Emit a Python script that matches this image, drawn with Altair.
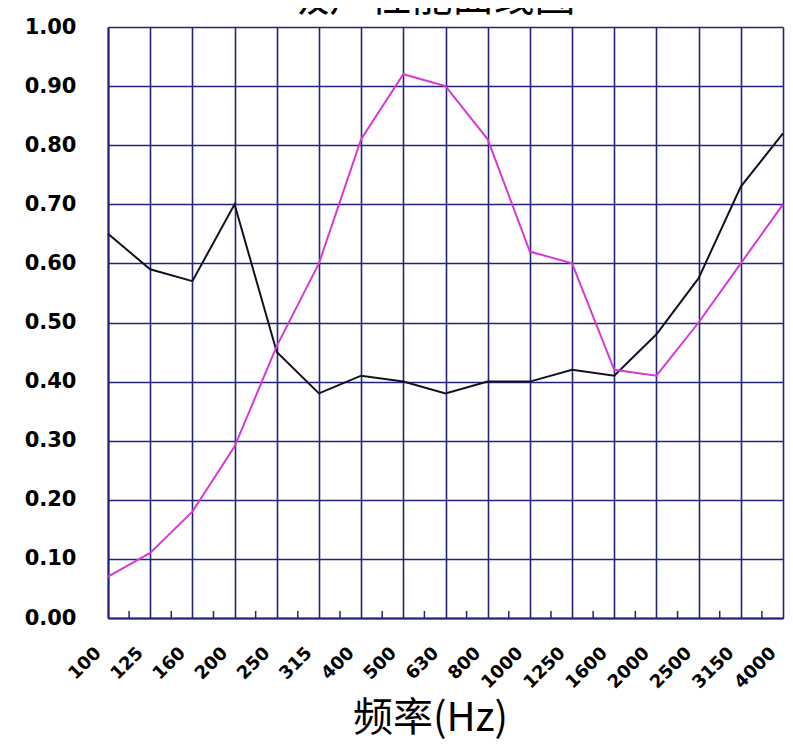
import json
import altair as alt
import pandas as pd

chart_title = "吸声性能曲线图"
freqs = ["100", "125", "160", "200", "250", "315", "400", "500", "630", "800",
         "1000", "1250", "1600", "2000", "2500", "3150", "4000"]
black_vals = [0.65, 0.59, 0.57, 0.70, 0.45, 0.38, 0.41, 0.40, 0.38, 0.40,
              0.40, 0.42, 0.41, 0.48, 0.575, 0.73, 0.82]
magenta_vals = [0.07, 0.11, 0.18, 0.29, 0.46, 0.60, 0.81, 0.92, 0.90, 0.81,
                0.62, 0.60, 0.42, 0.41, 0.50, 0.60, 0.70]
y_ticks = [0.0, 0.1, 0.2, 0.3, 0.4, 0.5, 0.6, 0.7, 0.8, 0.9, 1.0]

NAVY = "#23237e"

rows = []
for i, f in enumerate(freqs):
    rows.append({"idx": i, "freq": f, "value": black_vals[i], "series": "A"})
    rows.append({"idx": i, "freq": f, "value": magenta_vals[i], "series": "B"})
df = pd.DataFrame(rows)

mid = pd.DataFrame({"m": [i + 0.5 for i in range(len(freqs) - 1)],
                    "y0": [0.0] * (len(freqs) - 1),
                    "y1": [0.012] * (len(freqs) - 1)})

label_expr = json.dumps(freqs) + "[datum.value]"

x_scale = alt.Scale(domain=[0, len(freqs) - 1], nice=False, zero=False)
y_scale = alt.Scale(domain=[0, 1], nice=False)

x_axis = alt.Axis(
    values=list(range(len(freqs))), labelExpr=label_expr, labelAngle=-45,
    labelAlign="right", labelBaseline="middle", labelPadding=32, labelOffset=-10,
    labelFont="DejaVu Sans", labelFontWeight="bold", labelFontSize=18,
    labelColor="#000000", ticks=False, grid=True, gridColor=NAVY, gridWidth=1.6,
    gridOpacity=1, domainColor=NAVY, domainWidth=2, title="频率(Hz)",
    titleFont="Noto Sans CJK SC", titleFontSize=40, titleFontWeight="normal",
    titleColor="#000000", titleBaseline="middle", titleY=100, titleX=322,
    labelOverlap=False,
)
y_axis = alt.Axis(
    values=y_ticks, format=".2f", labelFont="DejaVu Sans", labelFontWeight="bold",
    labelFontSize=21, labelColor="#000000", labelPadding=32, ticks=False,
    grid=True, gridColor=NAVY, gridWidth=1.6, gridOpacity=1, domainColor=NAVY,
    domainWidth=2, title=None,
)

lines = alt.Chart(df).mark_line(strokeWidth=2).encode(
    x=alt.X("idx:Q", scale=x_scale, axis=x_axis),
    y=alt.Y("value:Q", scale=y_scale, axis=y_axis),
    color=alt.Color("series:N", scale=alt.Scale(domain=["A", "B"],
                    range=["#111122", "#d63ad6"]), legend=None),
)

minor = alt.Chart(mid).mark_rule(color=NAVY, strokeWidth=1.5).encode(
    x=alt.X("m:Q", scale=x_scale),
    y=alt.Y("y0:Q", scale=y_scale),
    y2="y1:Q",
)

title_df = pd.DataFrame({"t": [chart_title]})
title_mark = alt.Chart(title_df).mark_text(
    font="Noto Sans CJK SC", fontSize=41, color="#000000", align="center",
    baseline="alphabetic",
).encode(text="t:N", x=alt.value(324), y=alt.value(-16))

chart = alt.layer(minor, lines, title_mark).properties(
    width=675, height=591,
    autosize=alt.AutoSizeParams(type="none"),
    padding={"left": 100, "top": 19, "right": 2, "bottom": 130},
).configure_view(stroke=NAVY, strokeWidth=2).configure(background="#ffffff")

chart.save("out.html", embed_options={"renderer": "svg", "actions": False})
